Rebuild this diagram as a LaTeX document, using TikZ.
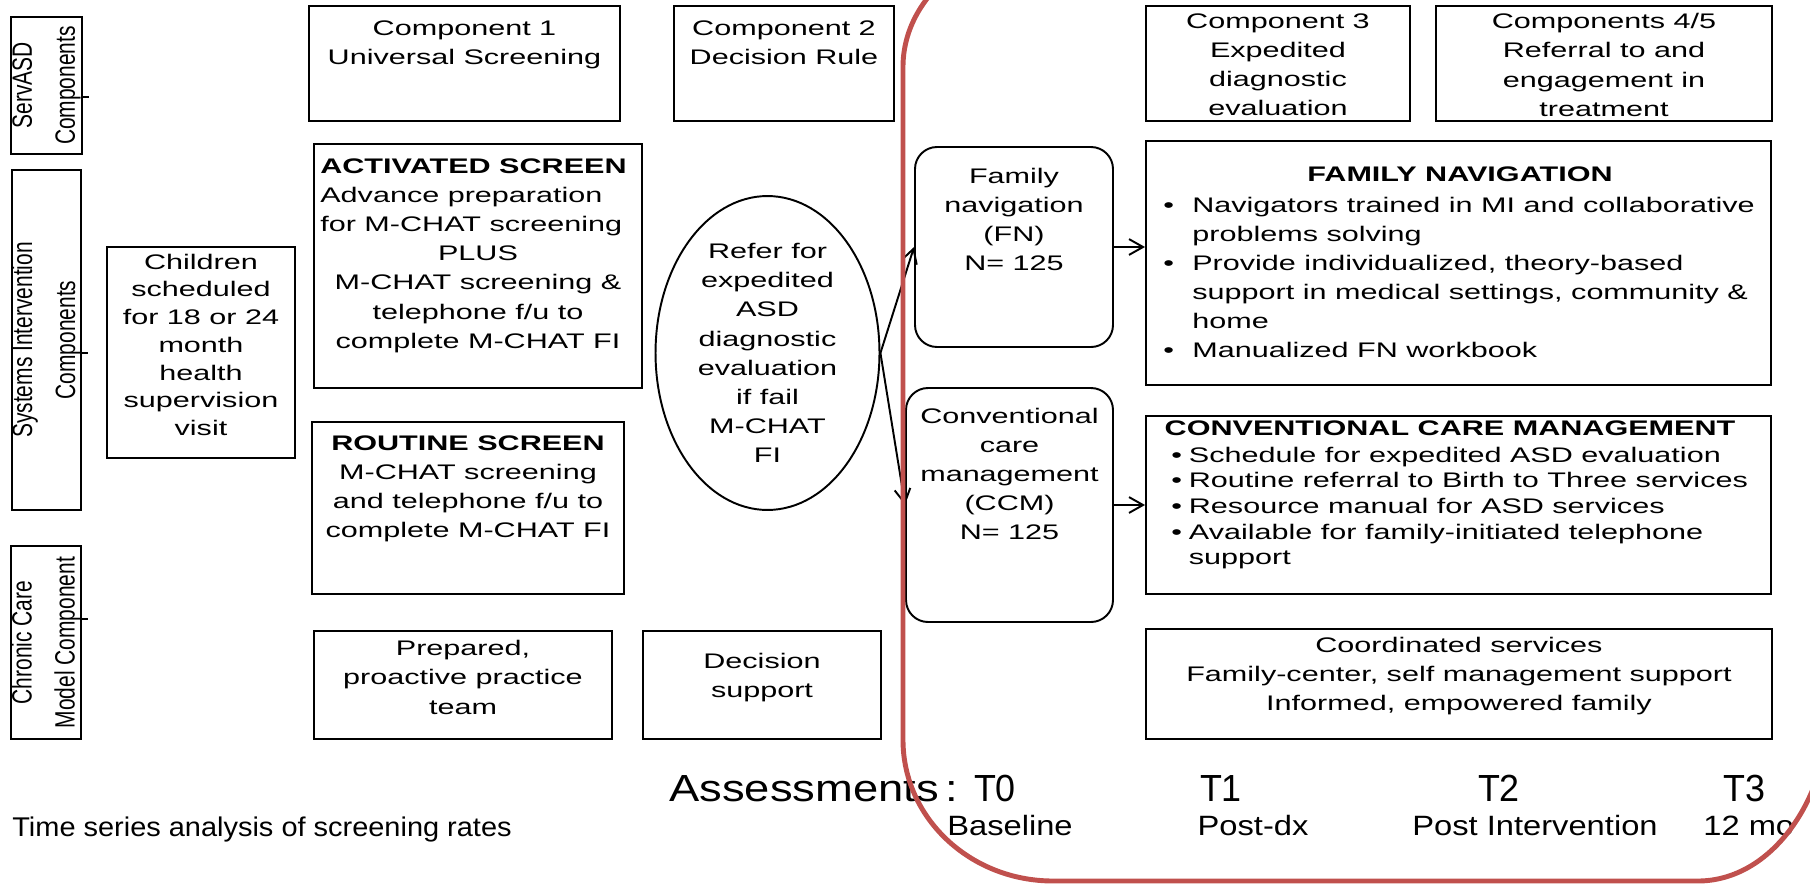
\documentclass[tikz,border=0pt]{standalone}
\usepackage{fontspec}
\setmainfont{Liberation Sans}
\newfontfamily\boxfont[FakeStretch=1.45]{Liberation Sans}
\newfontfamily\rotfont[FakeStretch=0.75]{Liberation Sans}
\newfontfamily\asmfont[FakeStretch=1.2]{Liberation Sans}
\newfontfamily\tfont[FakeStretch=0.95]{Liberation Sans}
\newfontfamily\subfont[FakeStretch=1.17]{Liberation Sans}
\newfontfamily\tsfont[FakeStretch=1.07]{Liberation Sans}
\usetikzlibrary{fit,shapes.geometric,arrows.meta}
\definecolor{redline}{RGB}{192,80,77}
\newcommand{\bl}{\makebox[16.5pt][l]{\textbullet}}
\newcommand{\ind}{\hspace*{16.5pt}}
\newcommand{\sbl}{\makebox[10pt][l]{\textbullet}}
\newcommand{\sind}{\hspace*{10pt}}
\tikzset{
  box/.style={draw, rectangle, line width=1.1pt, inner sep=0pt},
  rbox/.style={box, rounded corners=0.44cm},
  txt/.style={inner sep=0pt, align=center, font={\boxfont\fontsize{12pt}{16.6pt}\selectfont}},
  rot/.style={inner sep=0pt, align=center, rotate=90, font={\rotfont\fontsize{15.9pt}{24.5pt}\selectfont}},
  big/.style={inner sep=0pt, font={\tfont\fontsize{21.5pt}{25pt}\selectfont}},
  mid/.style={inner sep=0pt, font={\subfont\fontsize{15.9pt}{19pt}\selectfont}},
  conn/.style={line width=1.1pt, -{Straight Barb[length=8pt,width=9pt]}},
  tick/.style={line width=0.6pt},
}
\begin{document}
\begin{tikzpicture}[x=0.02cm, y=-0.02cm]
\useasboundingbox (0,0) rectangle (1810,886);

% row labels
\node[box, fit={(11,17) (82,154)}] (lab1) {};
\node[rot] (lab1t) at (lab1.center) {ServASD\\Components};
\node[box, fit={(12,170) (81,510)}] (lab2) {};
\node[rot] (lab2t) at (lab2.center) {Systems Intervention\\Components};
\node[box, fit={(11,546) (81,739)}] (lab3) {};
\node[rot] (lab3t) at (lab3.center) {Chronic Care\\Model Component};
\draw[tick] (lab1.east |- 0,97) -- ++(6,0);
\draw[tick] (lab2.east |- 0,353) -- ++(6,0);
\draw[tick] (lab3.east |- 0,619) -- ++(6,0);

% entry
\node[box, txt, fit={(107,247) (295,458)}, font={\boxfont\fontsize{12pt}{15.8pt}\selectfont}] (kids)
  {Children\\scheduled\\for 18 or 24\\month\\health\\supervision\\visit};

% component headers
\node[box, fit={(309,6) (620,121)}] (c1) {};
\node[txt, anchor=north] (c1t) at (464.5,20.7) {Component 1\\Universal Screening};
\node[box, fit={(674,6) (894,121)}] (c2) {};
\node[txt, anchor=north] (c2t) at (784,20.2) {Component 2\\Decision Rule};
\node[box, fit={(1146,6) (1410,121)}] (c3) {};
\node[txt, anchor=north] (c3t) at (1278,13.2) {Component 3\\Expedited\\diagnostic\\evaluation};
\node[box, fit={(1436,6) (1772,121)}] (c45) {};
\node[txt, anchor=north] (c45t) at (1604,13.2) {Components 4/5\\Referral to and\\engagement in\\treatment};

% screening arms
\node[box, fit={(314,144) (642,388)}] (act) {};
\node[txt, anchor=north west, align=left] (acta) at (320,158)
  {\textbf{ACTIVATED SCREEN}\\Advance preparation\\for M-CHAT screening};
\node[txt, anchor=north] (actb) at (478,245.6)
  {PLUS\\M-CHAT screening \&\\telephone f/u to\\complete M-CHAT FI};
\node[box, fit={(312,422) (624,594)}] (rout) {};
\node[txt, anchor=north] (routt) at (468,435)
  {\textbf{ROUTINE SCREEN}\\M-CHAT screening\\and telephone f/u to\\complete M-CHAT FI};

% chronic care row
\node[box, txt, fit={(314,631) (612,739)}] (prep) {Prepared,\\proactive practice\\team};
\node[box, txt, fit={(643,631) (881,739)}] (dec) {Decision\\support};
\node[box, txt, fit={(1146,629) (1772,739)}] (coord)
  {Coordinated services\\Family-center, self management support\\Informed, empowered family};

% decision rule
\node[draw, ellipse, line width=1.1pt, minimum width=4.48cm, minimum height=6.28cm, txt] (ell) at (767.5,353)
  {Refer for\\expedited\\ASD\\diagnostic\\evaluation\\if fail\\M-CHAT\\FI};

% randomised arms
\node[rbox, fit={(915,147) (1113,347)}] (fn) {};
\node[txt, anchor=north] (fnt) at (1014,167.5) {Family\\navigation\\(FN)\\N= 125};
\node[rbox, fit={(906,388) (1113,622)}] (ccm) {};
\node[txt, anchor=north] (ccmt) at (1009.5,407.5) {Conventional\\care\\management\\(CCM)\\N= 125};

\node[box, fit={(1146,141) (1771,385)}] (famnav) {};
\node[txt, anchor=north] (famnavh) at (1460,166.5) {\textbf{FAMILY NAVIGATION}};
\node[txt, anchor=north west, align=left] (famnavl) at (1163,196.5)
  {\bl Navigators trained in MI and collaborative\\\ind problems solving\\\bl Provide individualized, theory-based\\\ind support in medical settings, community \&\\\ind home\\\bl Manualized FN workbook};

\node[box, fit={(1146,416) (1771,594)}] (ccmbox) {};
\node[txt, anchor=north] (ccmh) at (1450,420.5) {\textbf{CONVENTIONAL CARE MANAGEMENT}};
\node[txt, anchor=north west, align=left, font={\boxfont\fontsize{12pt}{14.6pt}\selectfont}] (ccml) at (1171,446.5)
  {\sbl Schedule for expedited ASD evaluation\\\sbl Routine referral to Birth to Three services\\\sbl Resource manual for ASD services\\\sbl Available for family-initiated telephone\\\sind support};

% connectors
\draw[conn] (ell.east) -- (fn.west);
\draw[conn] (ell.east) -- (ccm.west);
\draw[conn] (fn.east) -- (fn.east -| famnav.west);
\draw[conn] (ccm.east) -- (ccm.east -| ccmbox.west);

% assessment timeline
\node[inner sep=0pt, anchor=base west, font={\tsfont\fontsize{15.4pt}{18pt}\selectfont}] (ts) at (12,836) {Time series analysis of screening rates};
\node[inner sep=0pt, anchor=base west, font={\asmfont\fontsize{21.5pt}{25pt}\selectfont}] (asm) at (669,801) {Assessments\hspace{3.5pt}:};
\node[big, anchor=base] (t0) at (995,801) {T0};
\node[big, anchor=base] (t1) at (1221,801) {T1};
\node[big, anchor=base] (t2) at (1499,801) {T2};
\node[big, anchor=base] (t3) at (1744,801) {T3};
\node[mid, anchor=base] (b0) at (1010,835) {Baseline};
\node[mid, anchor=base] (b1) at (1253,835) {Post-dx};
\node[mid, anchor=base] (b2) at (1535,835) {Post Intervention};
\node[mid, anchor=base west] (b3) at (1703,835) {12 mo};

% study frame
\begin{scope}
\clip (0,0) rectangle (1810,886);
\draw[draw=redline, line width=2.8pt]
  (1830,-60) -- (1056,-60) .. controls (971.5,-60) and (903,-3.1) .. (903,67)
  -- (903,740) .. controls (903,817.9) and (970.2,881) .. (1053,881)
  -- (1698,881) .. controls (1770.9,881) and (1830,800) .. (1830,700) -- cycle;
\end{scope}
\end{tikzpicture}
\end{document}
